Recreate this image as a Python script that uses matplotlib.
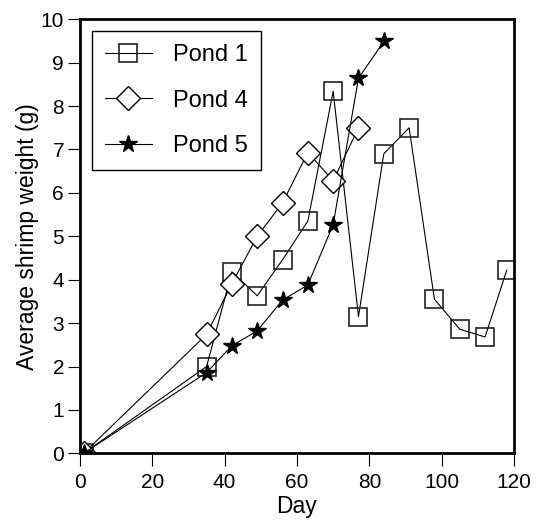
import matplotlib
matplotlib.use("Agg")
import matplotlib.pyplot as plt

plt.rcParams['font.family'] = ['Liberation Sans', 'DejaVu Sans']

# datos
dias_p1 = [1, 35, 42, 49, 56, 63, 70, 77, 84, 91, 98, 105, 112, 118]
peso_p1 = [0.0, 2.0, 4.18, 3.63, 4.46, 5.35, 8.34, 3.15, 6.90, 7.50, 3.55, 2.86, 2.68, 4.22]

dias_p4 = [1, 35, 42, 49, 56, 63, 70, 77]
peso_p4 = [0.0, 2.74, 3.91, 5.0, 5.77, 6.93, 6.28, 7.50]

dias_p5 = [1, 35, 42, 49, 56, 63, 70, 77, 84]
peso_p5 = [0.0, 1.86, 2.48, 2.82, 3.53, 3.88, 5.27, 8.64, 9.49]

fig = plt.figure(figsize=(5.45, 5.24), dpi=100)
ax = fig.add_axes([0.1468, 0.1349, 0.7963, 0.8283])

ax.plot(dias_p1, peso_p1, color='black', lw=0.8, marker='s', ms=13,
        mfc='none', mec='#222222', mew=1.2, label='Pond 1')
ax.plot(dias_p4, peso_p4, color='black', lw=0.8, marker='D', ms=12,
        mfc='white', mec='black', mew=1.0, label='Pond 4')
ax.plot(dias_p5, peso_p5, color='black', lw=0.8, marker='*', ms=13,
        mfc='black', mec='black', label='Pond 5')

ax.set_xlim(0, 120)
ax.set_ylim(0, 10)
ax.set_xticks(range(0, 121, 20))
ax.set_yticks(range(0, 11))
ax.tick_params(direction='out', length=9, width=0.8, labelsize=15)
ax.tick_params(axis='x', pad=5)
ax.tick_params(axis='y', pad=2.5)
for s in ax.spines.values():
    s.set_linewidth(2)

ax.set_xlabel('Day', fontsize=16.5, labelpad=2)
ax.set_ylabel('Average shrimp weight (g)', fontsize=16.5, labelpad=1)

leg = ax.legend(loc='upper left', fontsize=17, fancybox=False, framealpha=1,
                edgecolor='black', handlelength=2.0, handletextpad=0.9,
                labelspacing=1.0, borderpad=0.55, borderaxespad=0.5)
leg.get_frame().set_linewidth(1.0)

plt.savefig('out.png', dpi=100)
